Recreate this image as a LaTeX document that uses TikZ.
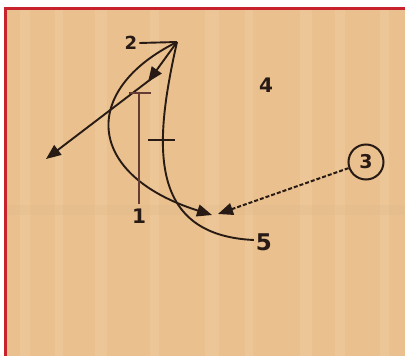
\documentclass[tikz,border=0pt]{standalone}
\usepackage{fontspec}
\setmainfont{DejaVu Sans}
\usetikzlibrary{arrows.meta}
\definecolor{wood}{RGB}{233,192,142}
\definecolor{woodlight}{RGB}{240,204,158}
\definecolor{ink}{RGB}{40,26,20}
\definecolor{inkbrown}{RGB}{100,60,52}
\definecolor{frame}{RGB}{200,35,45}
\tikzset{
  num/.style={inner sep=0pt, text=ink, font=\bfseries},
  path/.style={draw=ink, line width=1.9pt},
  tri/.style={-{Triangle[length=15pt,width=12pt]}},
  screen/.style={draw=ink, line width=1.9pt},
  dribble/.style={draw=ink, line width=2pt, dash pattern=on 4pt off 2pt},
}
\begin{document}
\begin{tikzpicture}[x=1pt,y=-1pt]
\useasboundingbox (0,0) rectangle (405,356);
\fill[white] (0,0) rectangle (405,356);
\fill[wood] (5,8) rectangle (405,356);
% faint wood stripes
\foreach \xa/\w in {20/10,55/8,95/12,150/9,205/14,245/8,300/12,335/10,380/9}
  \fill[woodlight,opacity=0.5] (\xa,10) rectangle ++(\w,346);
\fill[wood!90!black,opacity=0.12] (5,205) rectangle (405,215);
\draw[frame,line width=3pt] (5.5,356) -- (5.5,8.5) -- (405,8.5);

% players
\node[num,font=\bfseries\fontsize{18}{18}\selectfont] (p2) at (131,43) {2};
\node[num,font=\bfseries\fontsize{20}{20}\selectfont] (p1) at (139,216) {1};
\node[num,font=\bfseries\fontsize{20}{20}\selectfont] (p4) at (266,85) {4};
\node[num,font=\bfseries\fontsize{23}{23}\selectfont] (p5) at (264,242) {5};
\node[circle,draw=ink,line width=2pt,minimum size=35pt,inner sep=0pt,
      text=ink,font=\bfseries\fontsize{19}{19}\selectfont] (p3) at (366,162) {3};

\coordinate (top) at (177,42);
\coordinate (passend) at (148,82);
\coordinate (wing) at (46,159);
\coordinate (meet1) at (212,215);
\coordinate (meet3) at (218,214);
\coordinate (ones) at (139,93);
\coordinate (fives) at (162,140);

% 2 to top
\draw[path] (p2.east) ++(2,0) -- (top);
% 2 curl to the block
\draw[path,tri] (top) .. controls (80,90) and (85,175) .. (meet1);
% 5 path up to the top
\draw[path] (p5.west) ++(-2,-2) .. controls (145,235) and (155,140) .. (top);
\draw[screen] (148,140) -- (175,140);
% pass
\draw[path,tri] (top) -- (passend);
\draw[path,tri] (151,79) -- (wing);
% 1 up screen
\draw[draw=inkbrown,line width=2.2pt] (p1.north) ++(0,-5) -- (ones);
\draw[draw=inkbrown,line width=1.9pt] (129,93) -- (151,93);
% 3 dribble
\draw[dribble,-{Triangle[length=15pt,width=12pt]}] (p3) -- (meet3);
\end{tikzpicture}
\end{document}
